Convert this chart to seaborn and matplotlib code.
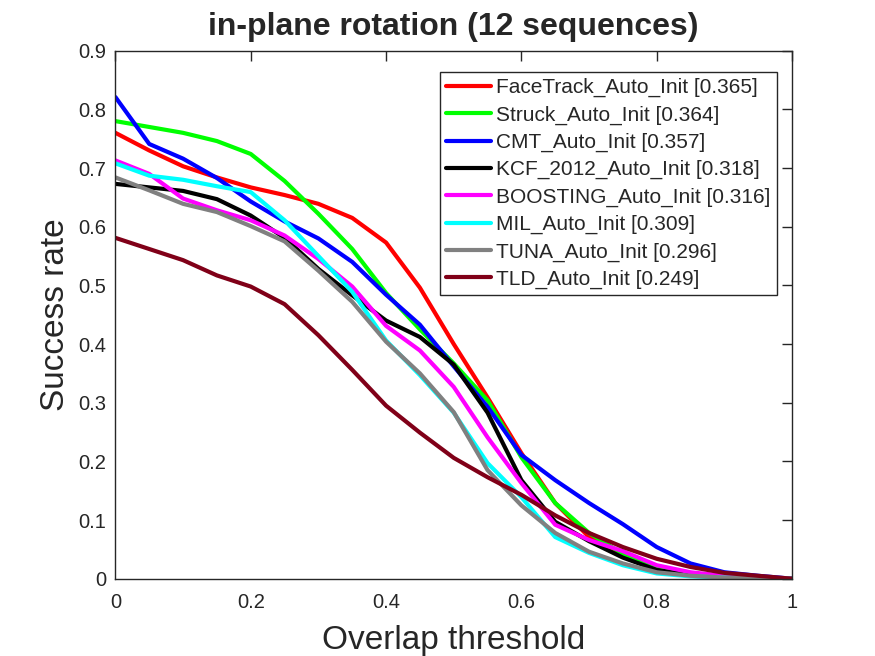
import numpy as np
import pandas as pd
import seaborn as sns
import matplotlib.pyplot as plt

# overlap thresholds 0:0.05:1
thresholds = [round(0.05 * i, 2) for i in range(21)]

trackers = ['FaceTrack_Auto_Init', 'Struck_Auto_Init', 'CMT_Auto_Init',
            'KCF_2012_Auto_Init', 'BOOSTING_Auto_Init', 'MIL_Auto_Init',
            'TUNA_Auto_Init', 'TLD_Auto_Init']
auc = [0.365, 0.364, 0.357, 0.318, 0.316, 0.309, 0.296, 0.249]

facetrack = [0.760, 0.730, 0.703, 0.684, 0.667, 0.654, 0.639, 0.615, 0.573, 0.496, 0.400,
             0.309, 0.214, 0.129, 0.071, 0.042, 0.018, 0.009, 0.004, 0.002, 0.0]
struck = [0.780, 0.770, 0.760, 0.746, 0.724, 0.678, 0.622, 0.562, 0.487, 0.425, 0.367,
          0.304, 0.207, 0.129, 0.078, 0.042, 0.017, 0.007, 0.003, 0.001, 0.0]
cmt = [0.821, 0.741, 0.716, 0.683, 0.643, 0.609, 0.580, 0.540, 0.484, 0.433, 0.362,
       0.293, 0.211, 0.168, 0.129, 0.093, 0.054, 0.026, 0.011, 0.005, 0.0]
kcf = [0.673, 0.667, 0.661, 0.647, 0.619, 0.581, 0.528, 0.483, 0.440, 0.412, 0.365,
       0.283, 0.168, 0.097, 0.064, 0.036, 0.015, 0.006, 0.003, 0.001, 0.0]
boosting = [0.713, 0.690, 0.648, 0.628, 0.611, 0.585, 0.545, 0.498, 0.431, 0.389, 0.327,
            0.241, 0.163, 0.092, 0.066, 0.047, 0.023, 0.011, 0.005, 0.002, 0.0]
mil = [0.708, 0.687, 0.680, 0.669, 0.659, 0.611, 0.550, 0.489, 0.406, 0.347, 0.283,
       0.197, 0.139, 0.071, 0.044, 0.023, 0.009, 0.004, 0.002, 0.001, 0.0]
tuna = [0.684, 0.662, 0.639, 0.625, 0.601, 0.575, 0.525, 0.472, 0.404, 0.350, 0.284,
        0.185, 0.125, 0.078, 0.046, 0.026, 0.011, 0.005, 0.002, 0.001, 0.0]
tld = [0.581, 0.562, 0.543, 0.517, 0.498, 0.468, 0.415, 0.356, 0.295, 0.249, 0.206,
       0.173, 0.143, 0.108, 0.078, 0.054, 0.034, 0.020, 0.010, 0.005, 0.0]

series = [facetrack, struck, cmt, kcf, boosting, mil, tuna, tld]
colors = ['#ff0000', '#00ff00', '#0000ff', '#000000', '#ff00ff', '#00ffff',
          '#808080', '#800018']

labels = [f'{t} [{a:.3f}]' for t, a in zip(trackers, auc)]
rows = []
for lab, vals in zip(labels, series):
    for th, v in zip(thresholds, vals):
        rows.append({'threshold': th, 'rate': v, 'tracker': lab})
df = pd.DataFrame(rows)

sns.set_style('white')
plt.rcParams['font.family'] = ['Liberation Sans', 'DejaVu Sans']

fig = plt.figure(figsize=(8.75, 6.56), dpi=100)
ax = fig.add_axes([0.1319, 0.1178, 0.7733, 0.8049])
sns.lineplot(data=df, x='threshold', y='rate', hue='tracker', hue_order=labels,
             palette=colors, linewidth=3, ax=ax, sort=False)

ax.set_xlim(0, 1)
ax.set_ylim(0, 0.9)
ax.set_xticks([0, 0.2, 0.4, 0.6, 0.8, 1])
ax.set_xticklabels(['0', '0.2', '0.4', '0.6', '0.8', '1'])
ax.set_yticks(np.arange(0, 0.91, 0.1))
ax.set_yticklabels(['0'] + [f'{v:.1f}' for v in np.arange(0.1, 0.91, 0.1)])
ax.tick_params(direction='in', length=7, width=1, top=True, right=True,
               labelsize=14.5, colors='#262626')
ax.tick_params(axis='x', pad=10)
ax.tick_params(axis='y', pad=6.5)
for sp in ax.spines.values():
    sp.set_color('#262626')
    sp.set_linewidth(1)

ax.set_xlabel('Overlap threshold', fontsize=24, color='#262626', labelpad=9.5)
ax.set_ylabel('Success rate', fontsize=24, color='#262626', labelpad=5)
ax.set_title('in-plane rotation (12 sequences)', fontsize=23, fontweight='bold', pad=11)

leg = ax.legend(loc='upper left', bbox_to_anchor=(0.480, 0.960), fontsize=15,
                frameon=True, fancybox=False, framealpha=1, edgecolor='#262626',
                borderaxespad=0, handlelength=2.16, labelspacing=0.39,
                handletextpad=0.24, borderpad=0.3)
leg.get_frame().set_linewidth(1)
for line in leg.get_lines():
    line.set_linewidth(3)

fig.savefig('out.png', dpi=100)
